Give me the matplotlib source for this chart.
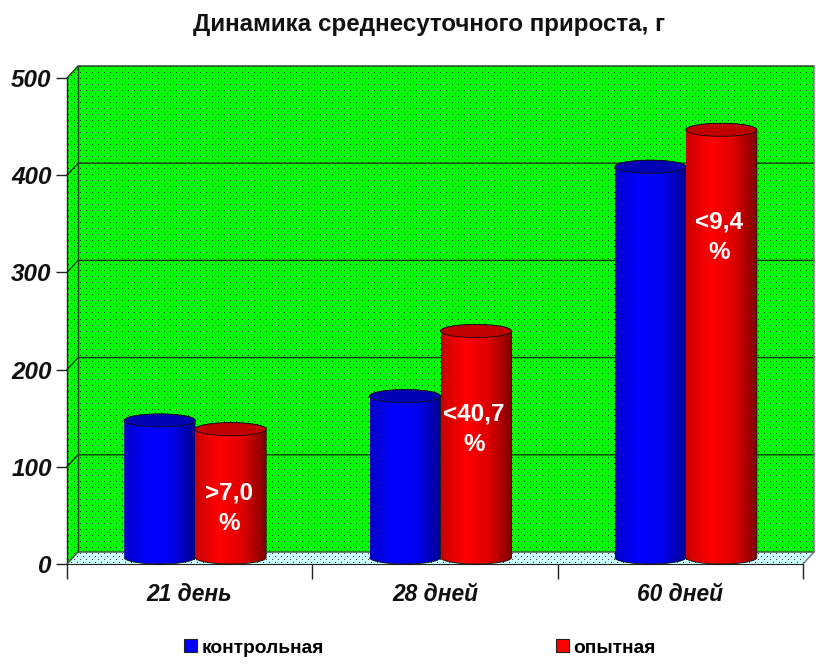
import numpy as np
import matplotlib
matplotlib.use('Agg')
import matplotlib.pyplot as plt
from matplotlib.colors import LinearSegmentedColormap
from matplotlib.patches import Patch, PathPatch, Polygon
from matplotlib.path import Path

categories = ['21 день', '28 дней', '60 дней']
control = [141, 166, 402]
trial = [132, 233, 440]
diff_labels = ['>7,0\n%', '<40,7\n%', '<9,4\n%']
label_heights = [57, 139, 336]
yticks = [0, 100, 200, 300, 400, 500]
series_names = ['контрольная', 'опытная']

W, H = 816, 671
left, right, bottom, top = 67, 803, 564, 78   # front plane, pixels
depth_x, depth_y = 11, 12
plt.rcParams['font.family'] = ['Liberation Sans', 'DejaVu Sans']

fig = plt.figure(figsize=(W / 100, H / 100), dpi=100)
ax = fig.add_axes([left / W, 1 - bottom / H, (right - left) / W, (bottom - top) / H])
ax.set_facecolor('none')

ux = 3 / (right - left)      # data units per pixel
uy = 500 / (bottom - top)
dx = depth_x * ux
dy = depth_y * uy
y_max = 500 + dy


def dotted(base, pitch=6):
    # flat colour with a staggered grid of dark dots, one pixel each
    w = right - left + depth_x
    h = bottom - top + depth_y
    img = np.ones((h, w, 3)) * np.array(base)
    img[1::pitch, 1::pitch] = 0.2
    img[4::pitch, 4::pitch] = 0.2
    return img


def textured(base, corners):
    im = ax.imshow(dotted(base), extent=[0, 3 + dx, 0, y_max], aspect='auto',
                   interpolation='nearest', zorder=1)
    poly = Polygon(corners, closed=True, transform=ax.transData, fc='none', ec='none')
    ax.add_patch(poly)
    im.set_clip_box(fig.bbox)
    im.set_clip_path(poly)


green = (0, 1, 0)
textured(green, [(dx, dy), (3 + dx, dy), (3 + dx, y_max), (dx, y_max)])
textured(green, [(0, 0), (dx, dy), (dx, y_max), (0, 500)])
textured((0.8, 1, 1), [(0, 0), (3, 0), (3 + dx, dy), (dx, dy)])

# wall edges and gridlines
line = dict(color='#1a3a1a', lw=1, zorder=2, clip_on=False)
for v in yticks[1:]:
    ax.plot([0, dx, 3 + dx], [v, v + dy, v + dy], **line)
ax.plot([dx, dx], [dy, y_max], **line)
ax.plot([0, 0], [0, 500], color='#222222', lw=1, zorder=2, clip_on=False)
ax.plot([0, dx, 3 + dx], [0, dy, dy], color='#444444', lw=1, zorder=2, clip_on=False)
ax.plot([3, 3 + dx, 3 + dx], [0, dy, y_max], color='#777777', lw=1, zorder=2, clip_on=False)

bar_w = 71 * ux
ell = 6.5 * uy
t = np.linspace(0, np.pi, 60)
blue_map = LinearSegmentedColormap.from_list('b', ['#0000c8', '#0000ff', '#0000f0', '#000090'])
red_map = LinearSegmentedColormap.from_list('r', ['#c80000', '#ff0000', '#e00000', '#800000'])
gradient = np.linspace(0, 1, 256).reshape(1, -1)


def cylinder(x0, value, cmap, lid, z):
    cx = x0 + bar_w / 2
    rx = bar_w / 2
    top_y = value + ell
    # outline: bottom half of the base, up the side, over the lid
    xs = np.r_[cx - rx * np.cos(t), cx + rx * np.cos(t)]
    ys = np.r_[ell - ell * np.sin(t), top_y + ell * np.sin(t)]
    body = PathPatch(Path(np.c_[xs, ys]), fc='none', ec='#101010', lw=0.6, zorder=z + 0.2,
                     clip_on=False)
    ax.add_patch(body)
    im = ax.imshow(gradient, extent=[x0, x0 + bar_w, 0, top_y + ell], cmap=cmap, aspect='auto',
                   zorder=z, interpolation='bilinear')
    im.set_clip_box(fig.bbox)
    im.set_clip_path(body)
    lx = np.r_[cx - rx * np.cos(t), cx + rx * np.cos(t)]
    ly = np.r_[top_y + ell * np.sin(t), top_y - ell * np.sin(t)]
    ax.add_patch(Polygon(np.c_[lx, ly], closed=True, fc=lid, ec='#101010', lw=0.6,
                         zorder=z + 0.3, clip_on=False))


for i, cat in enumerate(categories):
    center = i + 0.5 + dx / 2
    cylinder(center - bar_w, control[i], blue_map, '#0000b4', 3)
    cylinder(center, trial[i], red_map, '#c00000', 4)
    ax.text(center + bar_w / 2 - 2 * ux, label_heights[i], diff_labels[i], color='white', fontsize=17.5,
            fontweight='bold', ha='center', va='center', linespacing=1.42, zorder=6)

ax.set_xlim(0, 3)
ax.set_ylim(0, 500)
for s in ['top', 'right', 'left']:
    ax.spines[s].set_visible(False)
ax.spines['bottom'].set_color('#222222')
ax.spines['bottom'].set_zorder(2)

ax.set_yticks(yticks)
ax.set_xticks([0, 1, 2, 3])
ax.set_xticklabels([])
ax.set_xticks([0.5, 1.5, 2.5], categories, minor=True)
ax.tick_params(axis='y', length=8, width=1, color='#222222', pad=3, labelsize=17.5)
ax.tick_params(axis='x', which='major', length=11, width=1, color='#222222')
ax.tick_params(axis='x', which='minor', length=0, pad=13.5, labelsize=16.4)
for lab in ax.get_yticklabels() + ax.get_xticklabels(minor=True):
    lab.set_fontweight('bold')
    lab.set_fontstyle('italic')
    lab.set_color('#111111')

fig.text(429 / W, 1 - 24.5 / H, 'Динамика среднесуточного прироста, г', ha='center', va='center',
         fontsize=17.4, fontweight='bold', color='#111111')

handles = [Patch(fc='#0000ff', ec='#222222', lw=0.8), Patch(fc='#ff0000', ec='#222222', lw=0.8)]
fig.legend(handles, series_names, ncols=2, loc='center', bbox_to_anchor=(420 / W, 1 - 648 / H),
           frameon=False, handlelength=0.65, handleheight=0.65, handletextpad=0.25,
           columnspacing=12.13, prop={'size': 13.8, 'weight': 'bold'})

fig.savefig('out.png', dpi=100, facecolor='white')
